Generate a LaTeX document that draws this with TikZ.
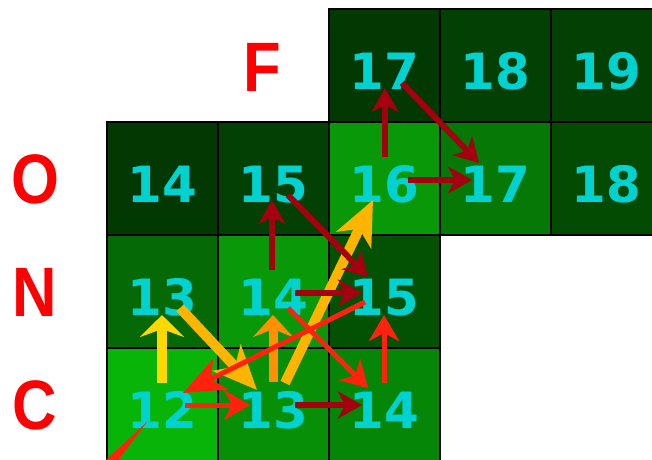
\documentclass[tikz,border=0pt]{standalone}
\usepackage{fontspec}
\usetikzlibrary{arrows.meta,calc}
\newfontfamily\numfont{DejaVu Sans}
\newfontfamily\labfont{Liberation Sans}
\definecolor{cyantext}{RGB}{0,210,210}
\definecolor{darkredarr}{RGB}{165,0,15}
\definecolor{redarr}{RGB}{255,35,15}
\definecolor{yellowarr}{RGB}{255,216,0}
\definecolor{orangearr}{RGB}{255,180,0}
\definecolor{darkorangearr}{RGB}{255,144,0}
\definecolor{labred}{RGB}{255,0,0}
\definecolor{gA}{RGB}{2,56,2}
\definecolor{gB}{RGB}{3,64,3}
\definecolor{gC}{RGB}{3,74,3}
\definecolor{gD}{RGB}{3,82,3}
\definecolor{gE}{RGB}{5,106,5}
\definecolor{gF}{RGB}{6,120,6}
\definecolor{gG}{RGB}{6,134,6}
\definecolor{gH}{RGB}{7,144,7}
\definecolor{gI}{RGB}{8,152,8}
\definecolor{gJ}{RGB}{9,180,9}
\begin{document}
\begin{tikzpicture}[x=1pt,y=-1pt,
  cell/.style={draw=black, line width=2.5pt, minimum width=111pt, minimum height=113pt,
    inner sep=0pt, text=cyantext, font=\numfont\bfseries\fontsize{50}{50}\selectfont,
    text height=48pt, text depth=0pt},
  lab/.style={inner sep=0pt, text=labred, font=\labfont\bfseries\fontsize{70}{70}\selectfont},
  drarr/.style={draw=darkredarr, line width=6pt, -{Stealth[length=24pt, width=27pt, inset=7pt]}},
  rarr/.style={draw=redarr, line width=5pt, -{Stealth[length=26pt, width=30pt, inset=8pt]}},
  rlong/.style={draw=redarr, line width=5pt, -{Stealth[length=42pt, width=34pt, inset=11pt]}},
  yarr/.style={draw=yellowarr, line width=10pt, -{Stealth[length=22pt, width=44pt, inset=8pt]}},
  oarr/.style={draw=orangearr, line width=10pt, -{Stealth[length=44pt, width=38pt, inset=12pt]}},
  doarr/.style={draw=darkorangearr, line width=9pt, -{Stealth[length=22pt, width=40pt, inset=8pt]}},
]
\useasboundingbox (0,0) rectangle (652,459);
\fill[white] (0,0) rectangle (652,459);

% cells
\node[cell, fill=gA] (F17) at (384.5,65.5) {17};
\node[cell, fill=gB] (F18) at (495.5,65.5) {18};
\node[cell, fill=gB] (F19) at (606.5,65.5) {19};
\node[cell, fill=gA] (O14) at (162.5,178.5) {14};
\node[cell, fill=gB] (O15) at (273.5,178.5) {15};
\node[cell, fill=gI] (O16) at (384.5,178.5) {16};
\node[cell, fill=gF] (O17) at (495.5,178.5) {17};
\node[cell, fill=gC] (O18) at (606.5,178.5) {18};
\node[cell, fill=gE] (N13) at (162.5,291.5) {13};
\node[cell, fill=gI] (N14) at (273.5,291.5) {14};
\node[cell, fill=gD] (N15) at (384.5,291.5) {15};
\node[cell, fill=gJ] (C12) at (162.5,404.5) {12};
\node[cell, fill=gH] (C13) at (273.5,404.5) {13};
\node[cell, fill=gG] (C14) at (384.5,404.5) {14};

% row / column letters
\node[lab] (lF) at (262,67) {\scalebox{0.88}[1]{F}};
\node[lab] (lO) at (35,179) {\scalebox{0.88}[1]{O}};
\node[lab] (lN) at (35,292) {\scalebox{0.88}[1]{N}};
\node[lab] (lC) at (35,405) {\scalebox{0.88}[1]{C}};

% yellow / orange arrows
\draw[yarr] ($(C12)+(-0.5,-21.5)$) -- ($(N13)+(-0.5,23.5)$);
\draw[doarr] ($(C13)+(-0.5,-22.5)$) -- ($(N14)+(-0.5,23.5)$);
\draw[oarr] ($(N13)+(17.5,16.5)$) -- ($(C13)+(-16.5,-14.5)$);
\draw[oarr] ($(C13)+(11.5,-21.5)$) -- ($(O16)+(-11.5,21.5)$);

% red arrows
\draw[rlong] ($(N15)+(-19.5,10.5)$) -- ($(C12)+(20.5,-11.5)$);
\draw[rarr] ($(N14)+(14.5,16.5)$) -- ($(C14)+(-16.5,-16.5)$);
\draw[rarr] ($(C14)+(-0.5,-21.5)$) -- ($(N15)+(-0.5,23.5)$);
\draw[rarr] ($(C12)+(22.5,0.5)$) -- ($(C13)+(-23.5,0.5)$);
\coordinate (wt) at ($(C12)+(-15.5,17.5)$);
\fill[redarr] (wt) -- (119,459) -- (112,466) -- (100,466) -- (107,459) -- cycle;

% dark red arrows
\draw[drarr] ($(O16)+(0.5,-21.5)$) -- ($(F17)+(0.5,22.5)$);
\draw[drarr] ($(F17)+(17.5,17.5)$) -- ($(O17)+(-16.5,-15.5)$);
\draw[drarr] ($(O16)+(23.5,1.5)$) -- ($(O17)+(-23.5,1.5)$);
\draw[drarr] ($(N14)+(-1.5,-21.5)$) -- ($(O15)+(-1.5,21.5)$);
\draw[drarr] ($(O15)+(14.5,16.5)$) -- ($(N15)+(-16.5,-14.5)$);
\draw[drarr] ($(N14)+(21.5,1.5)$) -- ($(N15)+(-22.5,1.5)$);
\draw[drarr] ($(C13)+(21.5,0.5)$) -- ($(C14)+(-22.5,0.5)$);
\end{tikzpicture}
\end{document}
